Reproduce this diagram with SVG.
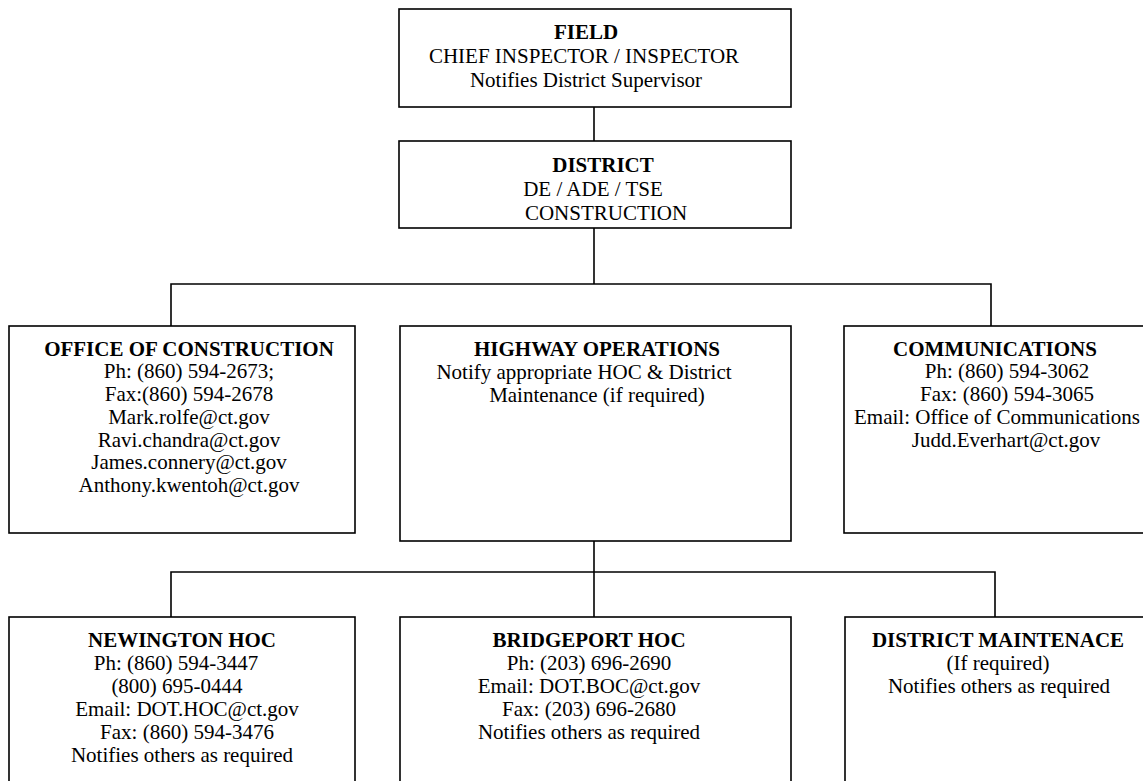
<svg xmlns="http://www.w3.org/2000/svg" width="1143" height="781" viewBox="0 0 1143 781">
<style>
.box{fill:#fff;stroke:#000;stroke-width:1.6}
.ln{fill:none;stroke:#000;stroke-width:1.6}
text{font-family:"Liberation Serif","Times New Roman",serif;font-size:21px;fill:#000;text-anchor:middle}
.b{font-weight:bold}
</style>
<rect width="1143" height="781" fill="#fff"/>
<g id="connectors">
<line class="ln" x1="594" y1="107" x2="594" y2="141"/>
<line class="ln" x1="594" y1="228" x2="594" y2="284"/>
<polyline class="ln" points="171,326 171,284 991,284 991,326"/>
<line class="ln" x1="594" y1="538" x2="594" y2="617"/>
<polyline class="ln" points="171,617 171,572 995,572 995,617"/>
</g>
<g id="field">
<rect class="box" x="399" y="9" width="392" height="98"/>
<text class="b" x="586" y="39">FIELD</text>
<text x="584" y="63">CHIEF INSPECTOR / INSPECTOR</text>
<text x="586" y="87">Notifies District Supervisor</text>
</g>
<g id="district">
<rect class="box" x="399" y="141" width="392" height="87"/>
<text class="b" x="603" y="172">DISTRICT</text>
<text x="593" y="196">DE / ADE / TSE</text>
<text x="606" y="220">CONSTRUCTION</text>
</g>
<g id="office">
<rect class="box" x="9" y="326" width="346" height="207"/>
<text class="b" x="189" y="356">OFFICE OF CONSTRUCTION</text>
<text x="189" y="378">Ph: (860) 594-2673;</text>
<text x="189" y="401">Fax:(860) 594-2678</text>
<text x="189" y="424">Mark.rolfe@ct.gov</text>
<text x="189" y="447">Ravi.chandra@ct.gov</text>
<text x="189" y="469">James.connery@ct.gov</text>
<text x="189" y="492">Anthony.kwentoh@ct.gov</text>
</g>
<g id="highway">
<rect class="box" x="400" y="326" width="391" height="215"/>
<text class="b" x="597" y="356">HIGHWAY OPERATIONS</text>
<text x="584" y="379">Notify appropriate HOC &amp; District</text>
<text x="597" y="402">Maintenance (if required)</text>
</g>
<g id="communications">
<rect class="box" x="844" y="326" width="310" height="207"/>
<text class="b" x="995" y="356">COMMUNICATIONS</text>
<text x="1007" y="378">Ph: (860) 594-3062</text>
<text x="1007" y="401">Fax: (860) 594-3065</text>
<text x="997" y="424">Email: Office of Communications</text>
<text x="1006" y="447">Judd.Everhart@ct.gov</text>
</g>
<g id="newington">
<rect class="box" x="9" y="617" width="346" height="180"/>
<text class="b" x="182" y="647">NEWINGTON HOC</text>
<text x="176" y="670">Ph: (860) 594-3447</text>
<text x="177" y="693">(800) 695-0444</text>
<text x="187" y="716">Email: DOT.HOC@ct.gov</text>
<text x="187" y="739">Fax: (860) 594-3476</text>
<text x="182" y="762">Notifies others as required</text>
</g>
<g id="bridgeport">
<rect class="box" x="400" y="617" width="391" height="180"/>
<text class="b" x="589" y="647">BRIDGEPORT HOC</text>
<text x="589" y="670">Ph: (203) 696-2690</text>
<text x="589" y="693">Email: DOT.BOC@ct.gov</text>
<text x="589" y="716">Fax: (203) 696-2680</text>
<text x="589" y="739">Notifies others as required</text>
</g>
<g id="maintenance">
<rect class="box" x="845" y="617" width="310" height="180"/>
<text class="b" x="998" y="647">DISTRICT MAINTENACE</text>
<text x="998" y="670">(If required)</text>
<text x="999" y="693">Notifies others as required</text>
</g>
</svg>
